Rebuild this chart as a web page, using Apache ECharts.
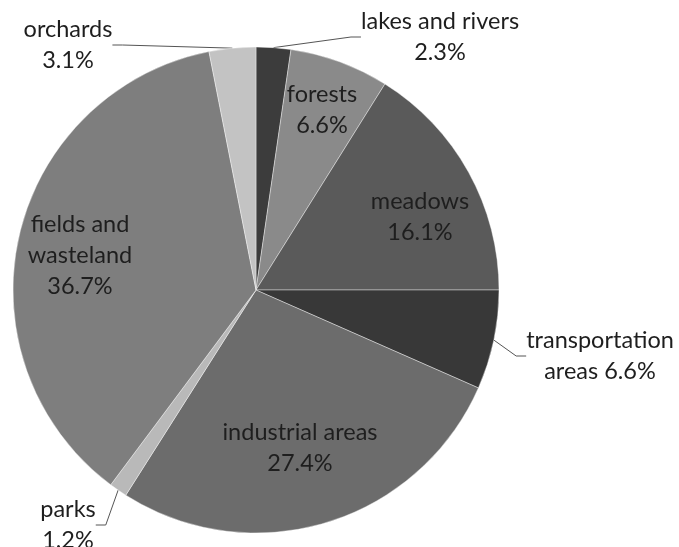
<!DOCTYPE html>
<html>
<head>
<meta charset="utf-8">
<script src="https://cdn.jsdelivr.net/npm/echarts@6/dist/echarts.min.js"></script>
<style>html,body{margin:0;padding:0;background:#fff;}#c{width:679px;height:547px;}</style>
</head>
<body>
<div id="c"></div>
<script>
var categories = ['lakes and rivers', 'forests', 'meadows', 'transportation areas', 'industrial areas', 'parks', 'fields and wasteland', 'orchards'];
var values = [2.3, 6.6, 16.1, 6.6, 27.4, 1.2, 36.7, 3.1];
var labelTexts = ['lakes and rivers\n2.3%', 'forests\n6.6%', 'meadows\n16.1%', 'transportation\nareas 6.6%', 'industrial areas\n27.4%', 'parks\n1.2%', 'fields and\nwasteland\n36.7%', 'orchards\n3.1%'];
var colors = ['#3c3c3c', '#8a8a8a', '#5a5a5a', '#383838', '#6c6c6c', '#b9b9b9', '#7e7e7e', '#c3c3c3'];
var outside = [true, false, false, true, false, true, false, true];
var labelPos = [[440, 37], [322, 110], [420, 217], [600, 356], [300, 448], [68, 525], [80, 255], [68, 45]];

var chart = echarts.init(document.getElementById('c'), null, {renderer: 'canvas'});
var data = categories.map(function (c, i) {
  return {
    name: c,
    value: values[i],
    itemStyle: {color: colors[i]},
    label: {position: outside[i] ? 'outside' : 'inside'},
    labelLine: {show: outside[i]}
  };
});
chart.setOption({
  backgroundColor: '#ffffff',
  animation: false,
  series: [{
    type: 'pie',
    center: [256, 290],
    radius: [0, 243],
    startAngle: 90,
    clockwise: true,
    data: data,
    itemStyle: {borderColor: '#ffffff', borderWidth: 0.4},
    label: {
      show: true,
      formatter: function (p) { return labelTexts[p.dataIndex]; },
      fontFamily: 'Lato',
      fontSize: 23.5,
      lineHeight: 31,
      color: '#1e1e1e',
      align: 'center'
    },
    labelLine: {lineStyle: {color: '#555555', width: 1}, length: 10, length2: 10},
    labelLayout: function (p) {
      var pos = labelPos[p.dataIndex];
      return {x: pos[0], y: pos[1], align: 'center', verticalAlign: 'middle'};
    }
  }]
});
</script>
</body>
</html>
